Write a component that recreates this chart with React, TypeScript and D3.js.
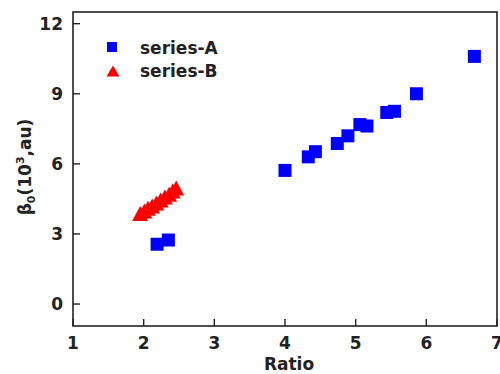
import React from "react";
import * as d3 from "d3";

const seriesA: [number, number][] = [
  [2.19, 2.56],
  [2.35, 2.74],
  [4.0, 5.72],
  [4.33, 6.3],
  [4.43, 6.52],
  [4.74, 6.87],
  [4.89, 7.2],
  [5.06, 7.68],
  [5.16, 7.62],
  [5.44, 8.2],
  [5.55, 8.25],
  [5.86, 9.0],
  [6.68, 10.6],
];

const seriesB: [number, number][] = [
  [1.95, 3.88],
  [2.01, 3.98],
  [2.06, 4.1],
  [2.12, 4.2],
  [2.18, 4.33],
  [2.24, 4.45],
  [2.3, 4.58],
  [2.36, 4.7],
  [2.41, 4.84],
  [2.46, 4.97],
];

const xTicks = [1, 2, 3, 4, 5, 6, 7];
const yTicks = [0, 3, 6, 9, 12];
const legendLabels = ["series-A", "series-B"];

const W = 500;
const H = 374;
const left = 73;
const right = 497;
const top = 12;
const bottom = 326;

export default function App() {
  const x = d3.scaleLinear().domain([1, 7]).range([left, right]);
  const y = d3.scaleLinear().domain([-0.94, 12.5]).range([bottom, top]);
  const font = "DejaVu Sans, Arial, sans-serif";
  const sq = 13;
  const triW = 16;
  const triH = 15;
  const tri = (cx: number, cy: number, w: number, h: number) =>
    `M${cx - w / 2},${cy + h / 2}L${cx + w / 2},${cy + h / 2}L${cx},${cy - h / 2}Z`;

  return (
    <svg
      width={W}
      height={H}
      style={{ position: "absolute", left: 0, top: 0, background: "#fff" }}
      fontFamily={font}
      fontWeight="bold"
    >
      <rect x={0} y={0} width={W} height={H} fill="#fff" />
      {seriesA.map(([a, b], i) => (
        <rect
          key={"a" + i}
          x={x(a) - sq / 2}
          y={y(b) - sq / 2}
          width={sq}
          height={sq}
          fill="#0000ff"
        />
      ))}
      {seriesB.map(([a, b], i) => (
        <path key={"b" + i} d={tri(x(a), y(b), triW, triH)} fill="#ff0000" />
      ))}
      <rect
        x={left}
        y={top}
        width={right - left}
        height={bottom - top}
        fill="none"
        stroke="#222"
        strokeWidth={1.6}
      />
      {xTicks.map((t) => (
        <g key={"xt" + t}>
          <line x1={x(t)} x2={x(t)} y1={bottom} y2={bottom - 7} stroke="#222" strokeWidth={1.4} />
          <text x={x(t)} y={349} textAnchor="middle" fontSize={17} fill="#222">
            {t}
          </text>
        </g>
      ))}
      {yTicks.map((t) => (
        <g key={"yt" + t}>
          <line x1={left} x2={left + 7} y1={y(t)} y2={y(t)} stroke="#222" strokeWidth={1.4} />
          <text x={63} y={y(t) + 6} textAnchor="end" fontSize={17} fill="#222">
            {t}
          </text>
        </g>
      ))}
      <text x={289} y={370} textAnchor="middle" fontSize={17} fill="#222">
        Ratio
      </text>
      <text
        transform="translate(31,167) rotate(-90)"
        textAnchor="middle"
        fontSize={17}
        fill="#222"
      >
        β<tspan fontSize={11} dy={4}>0</tspan>
        <tspan dy={-4}>(10</tspan>
        <tspan fontSize={11} dy={-7}>3</tspan>
        <tspan dy={7}>,au)</tspan>
      </text>
      <rect x={112 - 5} y={47 - 5} width={10} height={10} fill="#0000ff" />
      <path d={tri(113, 71, 13, 11)} fill="#ff0000" />
      <text x={140} y={54} fontSize={17} fill="#222">
        {legendLabels[0]}
      </text>
      <text x={140} y={77} fontSize={17} fill="#222">
        {legendLabels[1]}
      </text>
    </svg>
  );
}
